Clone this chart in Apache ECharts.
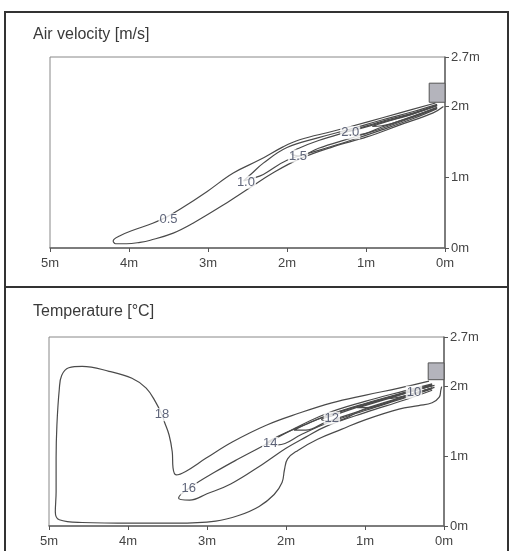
<!DOCTYPE html>
<html><head><meta charset="utf-8">
<script src="https://cdn.jsdelivr.net/npm/echarts@6/dist/echarts.min.js"></script>
<style>html,body{margin:0;padding:0;background:#fff}#c{width:510px;height:551px}</style>
</head><body><div id="c"></div>
<script>
// ---- data (metres) ----
const xTicks = [0, 1, 2, 3, 4, 5];
const yTicks = [0, 1, 2, 2.7];
const titles = ['Air velocity [m/s]', 'Temperature [°C]'];
const ductX = [0, 0.2];
const ductY1 = [2.06, 2.33];
const ductY2 = [2.09, 2.33];

// Air velocity contours
const vel05 = [[0.12,2.05],[0.57,1.91],[0.99,1.78],[1.42,1.65],[1.84,1.53],[2.05,1.43],[2.34,1.25],[2.68,1.06],[3.01,0.80],[3.35,0.55],[3.52,0.44],[3.7,0.35],[3.95,0.25],[4.12,0.17],[4.2,0.10],[4.17,0.06],[4.03,0.06],[3.86,0.08],[3.73,0.11],[3.44,0.21],[3.19,0.35],[2.76,0.64],[2.47,0.85],[2.18,1.06],[1.84,1.26],[1.42,1.43],[0.99,1.57],[0.57,1.74],[0.15,1.91],[0.02,2.0]];
const vel10 = [[0.1,2.03],[0.4,1.93],[0.8,1.81],[1.2,1.68],[1.6,1.56],[2.0,1.42],[2.3,1.2],[2.45,1.05],[2.55,0.95],[2.45,0.98],[2.3,1.04],[2.0,1.24],[1.6,1.38],[1.2,1.52],[0.8,1.67],[0.4,1.83],[0.1,1.97]];
const vel15 = [[0.1,2.02],[0.4,1.91],[0.8,1.79],[1.2,1.655],[1.6,1.52],[1.85,1.41],[1.95,1.34],[1.85,1.30],[1.6,1.41],[1.2,1.55],[0.8,1.69],[0.4,1.85],[0.1,1.98]];
const vel20 = [[0.1,2.015],[0.4,1.90],[0.8,1.775],[1.1,1.68],[1.3,1.62],[1.1,1.60],[0.8,1.71],[0.4,1.86],[0.1,1.985]];
const vel25 = [[0.1,2.012],[0.4,1.897],[0.8,1.765],[0.92,1.72],[0.8,1.728],[0.4,1.866],[0.1,1.988]];
const velLabels = ['0.5', '1.0', '1.5', '2.0'];
const velLabelX = [3.5, 2.52, 1.86, 1.2];
const velLabelY = [0.40, 0.93, 1.30, 1.63];

// Temperature contours
const temp18 = [[0.19,2.07],[0.57,1.97],[0.99,1.87],[1.42,1.76],[1.84,1.61],[2.25,1.44],[2.68,1.2],[3.01,0.97],[3.27,0.78],[3.39,0.73],[3.43,0.83],[3.44,1.06],[3.48,1.3],[3.54,1.49],[3.57,1.59],[3.65,1.77],[3.77,1.97],[3.95,2.11],[4.24,2.21],[4.58,2.28],[4.75,2.26],[4.84,2.15],[4.87,1.95],[4.9,1.44],[4.91,0.97],[4.91,0.49],[4.92,0.2],[4.87,0.09],[4.58,0.05],[3.95,0.04],[3.39,0.04],[2.89,0.07],[2.6,0.15],[2.34,0.28],[2.15,0.45],[2.05,0.62],[2.02,0.8],[1.98,0.96],[1.85,1.08],[1.6,1.24],[1.3,1.38],[0.99,1.52],[0.57,1.67],[0.32,1.72],[0.15,1.76],[0.06,1.84],[0.04,1.94],[0.03,1.99]];
const temp16 = [[0.15,2.03],[0.5,1.93],[1.0,1.78],[1.5,1.6],[2.0,1.33],[2.3,1.14],[2.6,0.96],[2.9,0.77],[3.2,0.56],[3.36,0.40],[3.22,0.37],[3.0,0.46],[2.7,0.6],[2.3,0.88],[2.0,1.11],[1.75,1.27],[1.5,1.42],[1.0,1.62],[0.5,1.8],[0.15,1.94]];
const temp14 = [[0.15,2.02],[0.5,1.91],[1.0,1.75],[1.5,1.57],[1.8,1.43],[2.1,1.28],[2.25,1.18],[2.1,1.16],[1.8,1.31],[1.5,1.46],[1.0,1.65],[0.5,1.83],[0.15,1.96]];
const temp13 = [[0.15,2.015],[0.5,1.90],[1.0,1.74],[1.5,1.565],[1.75,1.45],[1.9,1.37],[1.75,1.37],[1.5,1.48],[1.0,1.665],[0.5,1.84],[0.15,1.965]];
const temp12 = [[0.15,2.01],[0.5,1.895],[1.0,1.73],[1.4,1.58],[1.55,1.52],[1.4,1.5],[1.0,1.675],[0.5,1.85],[0.15,1.97]];
const temp11 = [[0.15,2.005],[0.5,1.89],[1.0,1.72],[1.1,1.69],[1.0,1.69],[0.5,1.857],[0.15,1.975]];
const temp10 = [[0.12,2.01],[0.35,1.945],[0.6,1.87],[0.75,1.82],[0.6,1.835],[0.35,1.905],[0.12,1.98]];
const tempLabels = ['18', '16', '14', '12', '10'];
const tempLabelX = [3.57, 3.23, 2.2, 1.42, 0.38];
const tempLabelY = [1.59, 0.53, 1.18, 1.54, 1.91];

// ---- chart ----
const FONT = 'Liberation Sans, Arial, sans-serif';
const lineColor = '#4a4a4a';
function contour(data, gi, w) {
  return { type: 'line', xAxisIndex: gi, yAxisIndex: gi, data: data, smooth: 0.4,
    showSymbol: false, symbol: 'none', silent: true, z: 3,
    lineStyle: { color: lineColor, width: w || 1.2 } };
}
function labels(texts, xs, ys, gi) {
  return { type: 'scatter', xAxisIndex: gi, yAxisIndex: gi, symbolSize: 0, z: 10, silent: true,
    data: texts.map((t, i) => [xs[i], ys[i], t]),
    label: { show: true, position: 'inside', formatter: p => p.value[2], fontSize: 13,
      fontFamily: FONT, color: '#38405a',
      backgroundColor: '#fff', padding: [0, 1] } };
}
function duct(gi, dy) {
  return { type: 'line', xAxisIndex: gi, yAxisIndex: gi, data: [], silent: true,
    markArea: { silent: true, itemStyle: { color: '#b4b4bc', borderColor: '#555', borderWidth: 1 },
      data: [[{ coord: [ductX[1], dy[1]] }, { coord: [ductX[0], dy[0]] }]] } };
}
const axisFont = { fontSize: 13, color: '#444', fontFamily: FONT };
function xAx(gi) {
  return { type: 'value', gridIndex: gi, min: 0, max: 5, interval: 1, inverse: true,
    axisLine: { show: true, onZero: false, lineStyle: { color: '#666', width: 1.5 } },
    axisTick: { show: true, length: 4, lineStyle: { color: '#555' } },
    axisLabel: Object.assign({ formatter: '{value}m', margin: 9 }, axisFont),
    splitLine: { show: false } };
}
function yAx(gi) {
  return { type: 'value', gridIndex: gi, position: 'right', min: 0, max: 2.7, interval: 1,
    axisLine: { show: true, onZero: false, lineStyle: { color: '#666', width: 1.5 } },
    axisTick: { show: true, length: 4, lineStyle: { color: '#555' } },
    axisLabel: Object.assign({ formatter: '{value}m', margin: 6 }, axisFont),
    splitLine: { show: false } };
}
const chart = echarts.init(document.getElementById('c'), null, { renderer: 'canvas' });
chart.setOption({
  animation: false,
  backgroundColor: '#fff',
  title: [
    { text: titles[0], left: 33, top: 27, padding: 0, textStyle: { fontSize: 16, fontWeight: 'normal', color: '#3a3a3a', fontFamily: FONT } },
    { text: titles[1], left: 33, top: 304, padding: 0, textStyle: { fontSize: 16, fontWeight: 'normal', color: '#3a3a3a', fontFamily: FONT } }
  ],
  grid: [
    { left: 50, top: 57, width: 395, height: 191, show: true, borderColor: '#888', borderWidth: 1, backgroundColor: 'transparent' },
    { left: 49, top: 337, width: 395, height: 189, show: true, borderColor: '#888', borderWidth: 1, backgroundColor: 'transparent' }
  ],
  xAxis: [xAx(0), xAx(1)],
  yAxis: [yAx(0), yAx(1)],
  graphic: [
    { type: 'rect', shape: { x: 5, y: 12, width: 503, height: 560 }, style: { fill: 'none', stroke: '#333', lineWidth: 2 }, z: 100 },
    { type: 'line', shape: { x1: 5, y1: 287, x2: 508, y2: 287 }, style: { stroke: '#333', lineWidth: 2 }, z: 100 }
  ],
  series: [
    contour(vel05, 0), contour(vel10, 0), contour(vel15, 0), contour(vel20, 0), contour(vel25, 0),
    labels(velLabels, velLabelX, velLabelY, 0), duct(0, ductY1),
    contour(temp18, 1), contour(temp16, 1), contour(temp14, 1), contour(temp13, 1), contour(temp12, 1),
    contour(temp11, 1), contour(temp10, 1),
    labels(tempLabels, tempLabelX, tempLabelY, 1), duct(1, ductY2)
  ]
});
</script></body></html>
